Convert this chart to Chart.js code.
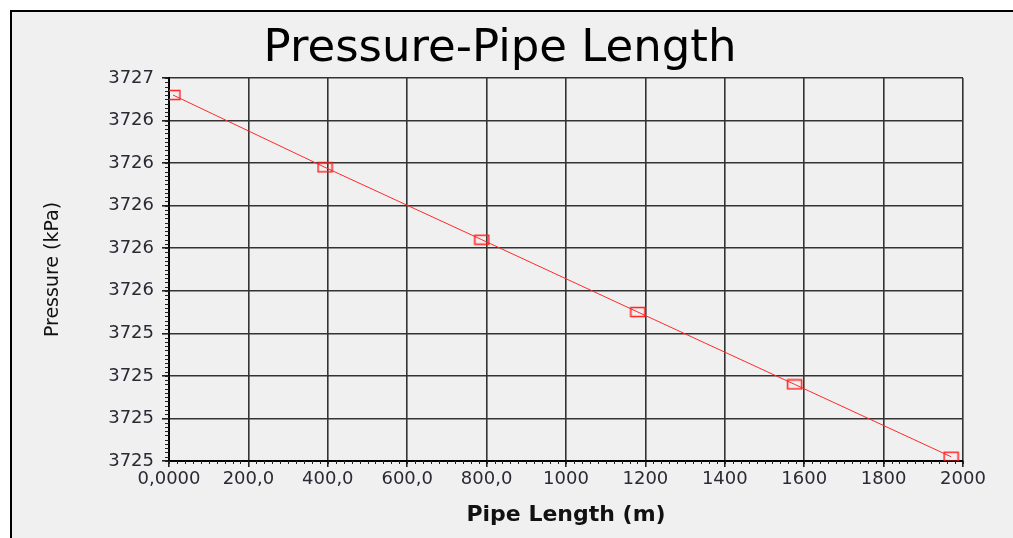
<!DOCTYPE html>
<html>
<head>
<meta charset="utf-8">
<script src="https://cdn.jsdelivr.net/npm/chart.js@4"></script>
<style>
  html, body { margin: 0; padding: 0; background: #fff; overflow: hidden; }
  #frame { position: absolute; left: 10px; top: 10px; width: 1100px; height: 600px; border: 2px solid #000; background: #f0f0f0; }
  #chart { position: absolute; left: 0; top: 0; }
</style>
</head>
<body>
<div id="frame"></div>
<canvas id="chart" width="1013" height="538"></canvas>
<script>
// values
const pipeLength = [10, 393, 788, 1181, 1576, 1970];
const pressure = [3726.52, 3726.18, 3725.84, 3725.50, 3725.16, 3724.82];
const xTickLabels = ['0,0000', '200,0', '400,0', '600,0', '800,0', '1000', '1200', '1400', '1600', '1800', '2000'];
const yTickLabels = ['3725', '3725', '3725', '3725', '3726', '3726', '3726', '3726', '3726', '3727'];

const fontFamily = "'DejaVu Sans', sans-serif";

// hollow rectangle marker
const marker = document.createElement('canvas');
marker.width = 17;
marker.height = 12;
const mctx = marker.getContext('2d');
mctx.strokeStyle = '#ff2020';
mctx.lineWidth = 1.5;
mctx.strokeRect(1.5, 1.5, 14, 9);

// small ticks between the labelled ones
const minorTicks = {
  id: 'minorTicks',
  afterDraw(chart) {
    const { ctx, chartArea, scales } = chart;
    const x = scales.x, y = scales.y;
    ctx.save();
    ctx.strokeStyle = '#222';
    ctx.lineWidth = 1;
    ctx.beginPath();
    for (let v = y.min; v <= y.max + 1e-9; v += 0.02) {
      const py = Math.round(y.getPixelForValue(v)) + 0.5;
      ctx.moveTo(chartArea.left - 4, py);
      ctx.lineTo(chartArea.left, py);
    }
    for (let v = x.min; v <= x.max; v += 20) {
      const px = Math.round(x.getPixelForValue(v)) + 0.5;
      ctx.moveTo(px, chartArea.bottom);
      ctx.lineTo(px, chartArea.bottom + 3);
    }
    ctx.stroke();
    ctx.restore();
  }
};

new Chart(document.getElementById('chart'), {
  type: 'line',
  data: {
    datasets: [{
      data: pipeLength.map((v, i) => ({ x: v, y: pressure[i] })),
      borderColor: '#ff2a2a',
      borderWidth: 1,
      pointStyle: marker,
      pointRadius: 6,
      tension: 0
    }]
  },
  options: {
    responsive: false,
    animation: false,
    layout: { padding: { left: 0, right: 13, top: 0, bottom: 0 } },
    plugins: {
      legend: { display: false },
      tooltip: { enabled: false },
      title: {
        display: true,
        text: 'Pressure-Pipe Length',
        color: '#000',
        font: { family: fontFamily, size: 45, weight: 'normal' },
        padding: { top: 22, bottom: 2 }
      }
    },
    scales: {
      x: {
        type: 'linear',
        min: 0,
        max: 2000,
        afterFit: s => { s.height = 77; },
        ticks: {
          stepSize: 200,
          autoSkip: false,
          maxRotation: 0,
          padding: 2,
          color: '#2a2a35',
          font: { family: fontFamily, size: 18 },
          callback: (v, i) => xTickLabels[i]
        },
        grid: { color: '#333', lineWidth: 1.6, tickLength: 6, tickColor: '#222' },
        border: { color: '#000', width: 2 },
        title: {
          display: true,
          text: 'Pipe Length (m)',
          color: '#111',
          font: { family: fontFamily, size: 22, weight: 'bold' },
          padding: { top: 0, bottom: 10 }
        }
      },
      y: {
        min: 3724.8,
        max: 3726.6,
        afterFit: s => { s.width = 169; },
        ticks: {
          stepSize: 0.2,
          autoSkip: false,
          padding: 8,
          color: '#2a2a35',
          font: { family: fontFamily, size: 18 },
          callback: (v, i) => yTickLabels[i]
        },
        grid: { color: '#333', lineWidth: 1.6, tickLength: 7, tickColor: '#222' },
        border: { color: '#000', width: 2 },
        title: {
          display: true,
          text: 'Pressure (kPa)',
          color: '#111',
          font: { family: fontFamily, size: 19 },
          padding: { top: 42, bottom: 0 }
        }
      },
      // empty strip on the right so the plot ends where the reference does
      y2: {
        position: 'right',
        afterFit: s => { s.width = 37; },
        ticks: { display: false },
        grid: { display: false },
        border: { display: false }
      }
    }
  },
  plugins: [minorTicks]
});
</script>
</body>
</html>
